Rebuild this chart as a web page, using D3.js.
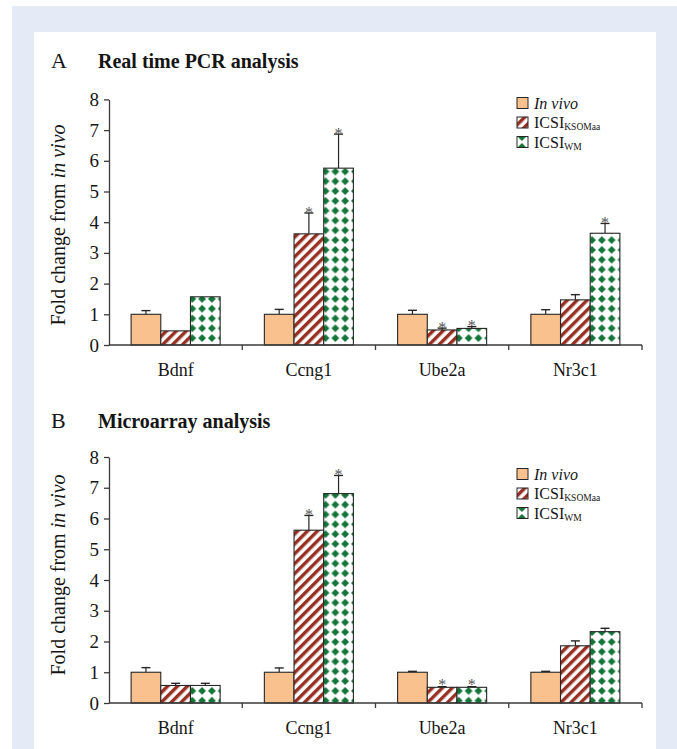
<!DOCTYPE html>
<html>
<head>
<meta charset="utf-8">
<script src="https://cdn.jsdelivr.net/npm/d3@7/dist/d3.min.js"></script>
<style>
  html, body { margin: 0; padding: 0; background: #ffffff; }
  svg { display: block; }
  text { font-family: "Liberation Serif", "Times New Roman", serif; fill: #151515; }
</style>
</head>
<body>
<div id="chart"></div>
<script>
// ---------- DATA ----------
const categories = ["Bdnf", "Ccng1", "Ube2a", "Nr3c1"];
const seriesKeys = ["invivo", "ksom", "wm"];
const yTicks = [0, 1, 2, 3, 4, 5, 6, 7, 8];

// Panel A: Real time PCR analysis
const pcrInVivo     = [1.00, 1.00, 1.00, 1.00];
const pcrInVivoErr  = [1.12, 1.16, 1.13, 1.15];   // top of error bar
const pcrKsom       = [0.46, 3.62, 0.49, 1.47];
const pcrKsomErr    = [0.46, 4.30, 0.55, 1.64];
const pcrWm         = [1.57, 5.76, 0.54, 3.64];
const pcrWmErr      = [1.57, 6.87, 0.60, 3.96];
const pcrKsomSig    = [false, true, true, false];
const pcrWmSig      = [false, true, true, true];

// Panel B: Microarray analysis
const microInVivo    = [1.00, 1.00, 1.00, 1.00];
const microInVivoErr = [1.15, 1.14, 1.03, 1.03];
const microKsom      = [0.57, 5.62, 0.51, 1.86];
const microKsomErr   = [0.64, 6.10, 0.53, 2.02];
const microWm        = [0.57, 6.81, 0.51, 2.32];
const microWmErr     = [0.64, 7.40, 0.53, 2.43];
const microKsomSig   = [false, true, true, false];
const microWmSig     = [false, true, true, false];

// ---------- BUILD ----------
const W = 677, H = 749;
const svg = d3.select("#chart").append("svg").attr("width", W).attr("height", H);

// backgrounds
svg.append("rect").attr("x", 0).attr("y", 0).attr("width", W).attr("height", H).attr("fill", "#ffffff");
svg.append("rect").attr("x", 12).attr("y", 6).attr("width", W - 12).attr("height", H - 6).attr("fill", "#e5ebf6");
svg.append("rect").attr("x", 34).attr("y", 32).attr("width", 622).attr("height", H - 32).attr("fill", "#ffffff");

// patterns
const defs = svg.append("defs");
const hatch = defs.append("pattern").attr("id", "hatch").attr("patternUnits", "userSpaceOnUse")
  .attr("width", 7).attr("height", 7).attr("patternTransform", "rotate(45)");
hatch.append("rect").attr("width", 7).attr("height", 7).attr("fill", "#ffffff");
hatch.append("rect").attr("x", 0).attr("y", 0).attr("width", 3.4).attr("height", 7).attr("fill", "#972f22");

const diam = defs.append("pattern").attr("id", "diam").attr("patternUnits", "userSpaceOnUse")
  .attr("width", 9.8).attr("height", 9.8);
diam.append("rect").attr("width", 9.8).attr("height", 9.8).attr("fill", "#ffffff");
diam.append("path").attr("d", "M4.9,1.0 L8.8,4.9 L4.9,8.8 L1.0,4.9 Z").attr("fill", "#137538");

const fills = { invivo: "#f9c18d", ksom: "url(#hatch)", wm: "url(#diam)" };
const ink = "#262626";

function drawPanel(cfg) {
  const g = svg.append("g");
  const y = d3.scaleLinear().domain([0, 8]).range([cfg.y0, cfg.y8]);
  const x0 = d3.scaleBand().domain(categories).range([109, 642]).padding(0);
  const x1 = d3.scaleBand().domain(seriesKeys).range([0, x0.bandwidth()])
    .paddingInner(0).paddingOuter(0.745);

  const rows = categories.map((c, i) => ({
    cat: c,
    bars: [
      { key: "invivo", v: cfg.inVivo[i], e: cfg.inVivoErr[i], sig: false },
      { key: "ksom", v: cfg.ksom[i], e: cfg.ksomErr[i], sig: cfg.ksomSig[i] },
      { key: "wm", v: cfg.wm[i], e: cfg.wmErr[i], sig: cfg.wmSig[i] }
    ]
  }));

  // titles
  g.append("text").attr("x", 51).attr("y", cfg.titleY).attr("font-size", 22).text(cfg.letter);
  g.append("text").attr("x", 98).attr("y", cfg.titleY).attr("font-size", 20)
    .attr("font-weight", "bold").text(cfg.title);

  const groups = g.selectAll("g.grp").data(rows).join("g")
    .attr("transform", d => `translate(${x0(d.cat)},0)`);

  // error bars
  groups.selectAll("g.err").data(d => d.bars.filter(b => b.e > b.v)).join("g").each(function (b) {
    const cx = x1(b.key) + x1.bandwidth() / 2;
    const s = d3.select(this);
    s.append("line").attr("x1", cx).attr("x2", cx).attr("y1", y(b.v)).attr("y2", y(b.e))
      .attr("stroke", ink).attr("stroke-width", 1.2);
    s.append("line").attr("x1", cx - 4.5).attr("x2", cx + 4.5).attr("y1", y(b.e)).attr("y2", y(b.e))
      .attr("stroke", ink).attr("stroke-width", 1.4);
  });

  groups.selectAll("rect.bar").data(d => d.bars).join("rect")
    .attr("x", b => x1(b.key)).attr("width", x1.bandwidth())
    .attr("y", b => y(b.v)).attr("height", b => y(0) - y(b.v))
    .attr("fill", b => fills[b.key]).attr("stroke", ink).attr("stroke-width", 1.1);

  groups.selectAll("text.sig").data(d => d.bars.filter(b => b.sig)).join("text")
    .attr("x", b => x1(b.key) + x1.bandwidth() / 2)
    .attr("y", b => Math.min(y(b.e), y(b.v) - 2) + 5)
    .attr("text-anchor", "middle").attr("font-size", 16).style("fill", "#555").text("*");

  // y axis
  const ya = g.append("g").attr("transform", "translate(109,0)")
    .call(d3.axisLeft(y).tickValues(yTicks).tickFormat(d3.format("d")).tickSize(5).tickSizeOuter(0).tickPadding(5));
  ya.selectAll("text").attr("font-size", 19).style("font-family", "'Liberation Serif', serif").style("fill", "#151515");
  ya.selectAll("line, path").attr("stroke", "#3a3a3a").attr("stroke-width", 1.3);

  // x axis
  const xa = g.append("g");
  xa.append("line").attr("x1", 109).attr("x2", 642).attr("y1", cfg.y0).attr("y2", cfg.y0)
    .attr("stroke", "#3a3a3a").attr("stroke-width", 1.3);
  const bounds = categories.slice(1).map(c => x0(c)).concat([x0.range()[1]]);
  xa.selectAll("line.tk").data(bounds).join("line")
    .attr("x1", d => d).attr("x2", d => d).attr("y1", cfg.y0).attr("y2", cfg.y0 + 5)
    .attr("stroke", "#3a3a3a").attr("stroke-width", 1.3);
  xa.selectAll("text").data(categories).join("text")
    .attr("x", c => x0(c) + x0.bandwidth() / 2).attr("y", cfg.y0 + 30.5)
    .attr("text-anchor", "middle").attr("font-size", 18).text(c => c);

  // y label
  const yl = g.append("text").attr("transform", `translate(65,${cfg.yLabelC}) rotate(-90)`)
    .attr("text-anchor", "middle").attr("font-size", 20);
  yl.append("tspan").text("Fold change from ");
  yl.append("tspan").attr("font-style", "italic").text("in vivo");

  // legend
  const lg = g.append("g").attr("transform", `translate(517,${cfg.legY})`);
  const legItems = [
    { key: "invivo", main: "In vivo", sub: "", italic: true },
    { key: "ksom", main: "ICSI", sub: "KSOMaa", italic: false },
    { key: "wm", main: "ICSI", sub: "WM", italic: false }
  ];
  const li = lg.selectAll("g").data(legItems).join("g").attr("transform", (d, i) => `translate(0,${i * 19.5})`);
  li.append("rect").attr("x", 0).attr("y", -5.5).attr("width", 11).attr("height", 11)
    .attr("fill", d => fills[d.key]).attr("stroke", ink).attr("stroke-width", 1);
  const lt = li.append("text").attr("x", 17).attr("y", 5.5).attr("font-size", 16);
  lt.append("tspan").attr("font-style", d => d.italic ? "italic" : "normal").text(d => d.main);
  lt.append("tspan").attr("font-size", 9.5).attr("dy", 2).text(d => d.sub);
}

drawPanel({
  letter: "A", title: "Real time PCR analysis", titleY: 68,
  y0: 345, y8: 99.4, yLabelC: 225, legY: 103,
  inVivo: pcrInVivo, inVivoErr: pcrInVivoErr,
  ksom: pcrKsom, ksomErr: pcrKsomErr, ksomSig: pcrKsomSig,
  wm: pcrWm, wmErr: pcrWmErr, wmSig: pcrWmSig
});
drawPanel({
  letter: "B", title: "Microarray analysis", titleY: 428,
  y0: 703, y8: 457, yLabelC: 575, legY: 474,
  inVivo: microInVivo, inVivoErr: microInVivoErr,
  ksom: microKsom, ksomErr: microKsomErr, ksomSig: microKsomSig,
  wm: microWm, wmErr: microWmErr, wmSig: microWmSig
});
</script>
</body>
</html>
